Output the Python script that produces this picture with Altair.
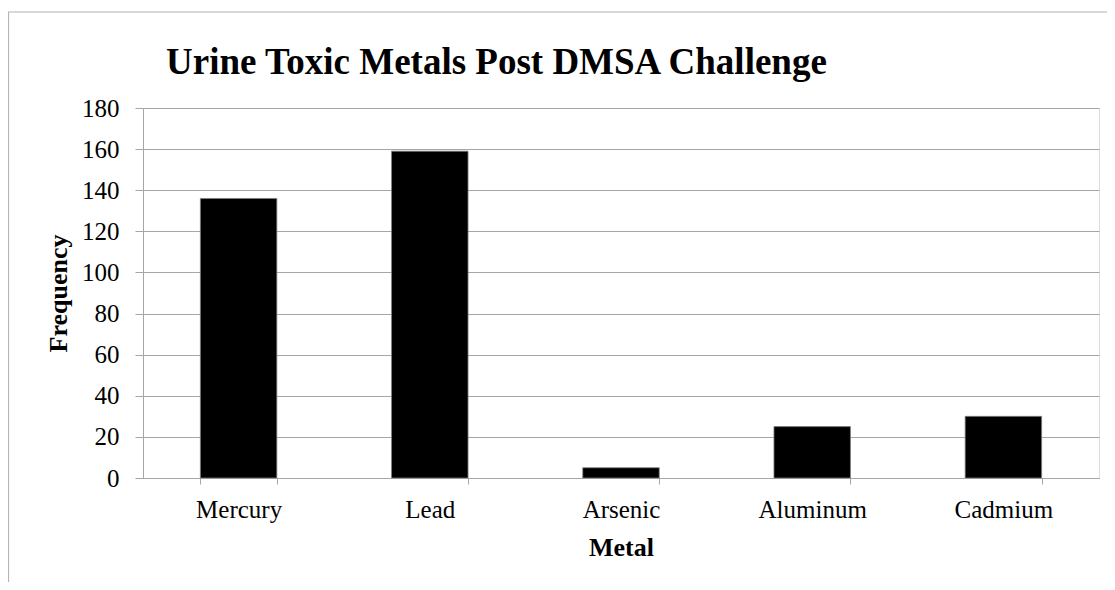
import altair as alt
import pandas as pd

metals = ["Mercury", "Lead", "Arsenic", "Aluminum", "Cadmium"]
frequency = [136, 159, 5, 25, 30]
y_ticks = [0, 20, 40, 60, 80, 100, 120, 140, 160, 180]

df = pd.DataFrame({"Metal": metals, "Frequency": frequency})
frame_df = pd.DataFrame({"k": [0]})

FONT = "Liberation Serif"
GRAY = "#a6a6a6"

bars = alt.Chart(df).mark_bar(color="black", stroke="#7f7f7f", strokeWidth=0.8).encode(
    x=alt.X(
        "Metal:N",
        sort=metals,
        scale=alt.Scale(paddingInner=0.6, paddingOuter=0.3),
        axis=alt.Axis(
            title="Metal",
            labelAngle=0,
            tickBand="extent",
            tickSize=6,
            tickColor=GRAY,
            domainColor=GRAY,
            labelFont=FONT,
            labelFontSize=25,
            labelColor="black",
            labelPadding=13,
            titleFont=FONT,
            titleFontSize=26,
            titleFontWeight="bold",
            titleColor="black",
            titlePadding=12,
            grid=False,
        ),
    ),
    y=alt.Y(
        "Frequency:Q",
        scale=alt.Scale(domain=[0, 180], nice=False),
        axis=alt.Axis(
            title="Frequency",
            values=y_ticks,
            tickSize=8,
            tickColor=GRAY,
            domainColor=GRAY,
            gridColor=GRAY,
            grid=True,
            labelFont=FONT,
            labelFontSize=25,
            labelColor="black",
            labelPadding=16,
            titleFont=FONT,
            titleFontSize=26,
            titleFontWeight="bold",
            titleColor="black",
            titlePadding=10,
        ),
    ),
)

frame_left = alt.Chart(frame_df).mark_rule(color="#b4b4b4", strokeWidth=1.2).encode(
    x=alt.value(-134.5), y=alt.value(-96), y2=alt.value(482)
)
frame_top = alt.Chart(frame_df).mark_rule(color="#b4b4b4", strokeWidth=1.2).encode(
    x=alt.value(-135), x2=alt.value(972), y=alt.value(-96)
)

chart = alt.layer(frame_left, frame_top, bars).properties(
    width=956,
    height=370,
    autosize=alt.AutoSizeParams(type="none"),
    padding={"left": 135, "top": 100, "right": 8, "bottom": 104},
    title=alt.TitleParams(
        "Urine Toxic Metals Post DMSA Challenge",
        font=FONT,
        fontSize=37,
        fontWeight="bold",
        color="black",
        anchor="start",
        frame="group",
        baseline="alphabetic",
        dx=23,
        offset=-99.6,
    ),
).configure_view(stroke=None).configure(background="white")

chart.save("out.html", embed_options={"renderer": "svg", "actions": False})
